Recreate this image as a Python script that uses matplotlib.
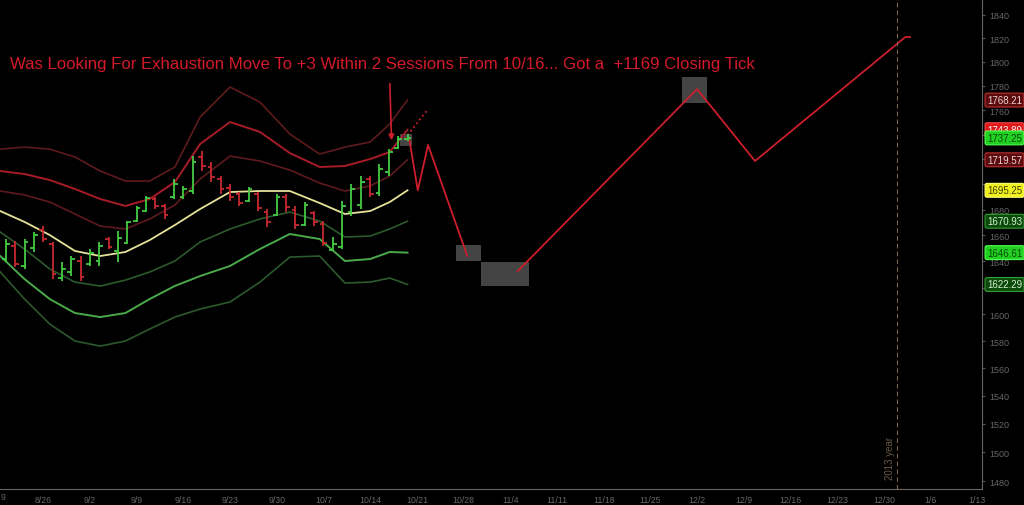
import numpy as np
import matplotlib.pyplot as plt
import matplotlib.transforms as mtransforms
from matplotlib.patches import Rectangle
from matplotlib.ticker import NullLocator, NullFormatter

plt.rcParams['font.family'] = ['Liberation Sans', 'DejaVu Sans']

# x = trading day index, 0 = Mon 8/19/2013
bar_day = np.arange(1, 45)
bar_open = [1642, 1652, 1636, 1650, 1664, 1653, 1627, 1632, 1640, 1638, 1640, 1657, 1648, 1654,
            1671, 1679, 1688, 1683, 1690, 1690, 1695, 1722, 1714, 1704, 1697, 1692, 1687, 1692,
            1678, 1676, 1690, 1680, 1668, 1677, 1669, 1649, 1651, 1678, 1684, 1704, 1693, 1710,
            1729, 1736]
bar_high = [1657.1, 1655.6, 1657.1, 1662.5, 1667.2, 1654.8, 1639.4, 1644.0, 1644.0, 1649.4,
            1654.8, 1658.7, 1663.3, 1671.1, 1682.9, 1690.7, 1689.9, 1684.4, 1704.2, 1698.7,
            1722.6, 1726.6, 1717.8, 1706.6, 1700.2, 1693.9, 1697.8, 1693.9, 1680.5, 1692.3,
            1692.3, 1682.9, 1686.0, 1678.9, 1671.1, 1658.7, 1686.8, 1700.2, 1706.6, 1706.6,
            1716.2, 1728.2, 1738.8, 1740.4]
bar_low = [1639.4, 1635.6, 1634.1, 1647.1, 1654.8, 1626.4, 1624.9, 1628.7, 1624.9, 1636.3,
           1636.3, 1649.4, 1639.4, 1653.3, 1670.4, 1678.1, 1680.5, 1672.7, 1688.4, 1688.4,
           1692.3, 1710.6, 1701.8, 1692.3, 1686.8, 1682.9, 1686.0, 1678.9, 1666.4, 1675.0,
           1678.1, 1664.9, 1667.2, 1667.2, 1651.7, 1647.8, 1649.4, 1675.0, 1680.5, 1689.9,
           1690.7, 1706.6, 1728.2, 1735.0]
bar_close = [1653, 1638, 1655, 1660, 1657, 1630, 1634, 1642, 1628, 1646, 1652, 1651, 1658, 1670,
             1681, 1689, 1683, 1676, 1700, 1696, 1718, 1715, 1706, 1696, 1690, 1685, 1696, 1681,
             1670, 1690, 1682, 1668, 1684, 1670, 1654, 1653, 1683, 1696, 1702, 1692, 1712, 1726,
             1736, 1737.25]

# bollinger style bands (sma +/- 1,2,3 dev)
band_day = [0.4, 3, 5.7, 8.4, 11.1, 13.8, 16.4, 19.1, 21.8, 25, 28.2, 31.4, 34.6, 37.3, 40, 42.1, 44]
upper3 = [1728.2, 1729.8, 1728.2, 1721.8, 1710.6, 1702.6, 1702.6, 1713.8, 1754.3, 1779.0, 1766.6,
          1740.4, 1724.2, 1729.8, 1733.9, 1748.6, 1768.21]
upper2 = [1710.6, 1708.2, 1703.4, 1696.3, 1688.4, 1682.9, 1688.4, 1701.8, 1732.3, 1750.2, 1742.1,
          1725.0, 1713.8, 1714.6, 1720.2, 1725.8, 1743.89]
upper1 = [1694.7, 1691.6, 1686.0, 1676.6, 1667.2, 1664.9, 1672.7, 1683.7, 1704.2, 1722.6, 1718.6,
          1711.4, 1701.0, 1694.7, 1698.7, 1706.6, 1719.57]
middle = [1678.9, 1670.4, 1660.2, 1647.9, 1644.0, 1647.1, 1656.3, 1668.0, 1680.5, 1693.9, 1694.7,
          1694.7, 1685.2, 1676.6, 1678.9, 1686.0, 1695.25]
lower1 = [1662.5, 1649.4, 1634.1, 1624.1, 1621.1, 1625.6, 1631.8, 1640.2, 1654.8, 1664.9, 1672.7,
          1678.1, 1671.1, 1658.7, 1659.4, 1664.9, 1670.93]
lower2 = [1644.0, 1626.4, 1611.3, 1600.8, 1597.8, 1600.8, 1611.3, 1621.2, 1628.7, 1636.4, 1649.4,
          1661.0, 1657.1, 1640.2, 1641.7, 1647.1, 1646.61]
lower3 = [1631.8, 1611.3, 1592.6, 1580.0, 1576.3, 1580.0, 1588.9, 1597.8, 1603.8, 1609.1, 1624.1,
          1643.2, 1644.0, 1623.4, 1624.1, 1627.2, 1622.29]

# projected path
proj1_day = [44.2, 45.1, 46.2, 50.4]
proj1_px = [1736, 1695.2, 1731.5, 1644.0]
proj2_day = [55.8, 75.0, 81.2, 97.3, 97.8]
proj2_px = [1632.5, 1777.3, 1718.6, 1821.1, 1821.1]

# gray target zones: (day0, day1, low, high)
zones = [(43.2, 44.5, 1730.7, 1740.4), (49.2, 51.9, 1640.2, 1652.5),
         (51.9, 57.0, 1621.1, 1639.4), (73.4, 76.1, 1765.8, 1787.4)]

end_labels = ['1768.21', '1743.89', '1737.25', '1719.57', '1695.25', '1670.93', '1646.61', '1622.29']
end_values = [1768.21, 1743.89, 1737.25, 1719.57, 1695.25, 1670.93, 1646.61, 1622.29]

week_labels = ['8/26', '9/2', '9/9', '9/16', '9/23', '9/30', '10/7', '10/14', '10/21', '10/28',
               '11/4', '11/11', '11/18', '11/25', '12/2', '12/9', '12/16', '12/23', '12/30',
               '1/6', '1/13']
week_day = np.arange(5, 106, 5)
year_end_day = 96.4

title = "Was Looking For Exhaustion Move To +3 Within 2 Sessions From 10/16... Got a  +1169 Closing Tick"

fig = plt.figure(figsize=(10.24, 5.06), dpi=100, facecolor='black')
ax = fig.add_axes([0, 16/506, 982/1024, 490/506])
ax.set_facecolor('black')
ax.set_yscale('log')
ax.set_xlim(0.375, 105.5)
ax.set_ylim(1474.5, 1853.7)

# bands
ax.plot(band_day, upper3, color='#5e1a1c', lw=1.2)
ax.plot(band_day, upper2, color='#a81c28', lw=1.4)
ax.plot(band_day, upper1, color='#5e1a1c', lw=1.2)
ax.plot(band_day, middle, color='#e6e29a', lw=1.3)
ax.plot(band_day, lower1, color='#2c5a2c', lw=1.2)
ax.plot(band_day, lower2, color='#4aaa4a', lw=1.4)
ax.plot(band_day, lower3, color='#2c5a2c', lw=1.2)

for d0, d1, lo, hi in zones:
    ax.add_patch(Rectangle((d0, lo), d1 - d0, hi - lo, facecolor='#444444', edgecolor='none', zorder=1))

# ohlc bars
for d, o, h, l, c in zip(bar_day, bar_open, bar_high, bar_low, bar_close):
    col = '#44cc44' if c >= o else '#c82830'
    ax.vlines(d, l, h, color=col, lw=1.3, zorder=3)
    ax.hlines(o, d - 0.4, d, color=col, lw=1.3, zorder=3)
    ax.hlines(c, d, d + 0.4, color=col, lw=1.3, zorder=3)

red = '#cc1e2c'
ax.plot(proj1_day, proj1_px, color=red, lw=1.3)
ax.plot(proj2_day, proj2_px, color=red, lw=1.3)
ax.plot([43.7, 46.2], [1736.3, 1760.9], color=red, lw=1.3, ls=':')
ax.annotate('', xy=(42.3, 1733), xytext=(42.1, 1784),
            arrowprops=dict(arrowstyle='-|>', color=red, lw=1.2, mutation_scale=8))

ax.axvline(year_end_day, color='#7a6a50', lw=0.8, ls=(0, (4, 3)))
ax.text(year_end_day - 0.7, 0.065, '2013 year', rotation=90, color='#6a5a48', fontsize=7,
        ha='center', va='center', transform=mtransforms.blended_transform_factory(ax.transData, ax.transAxes))

# axes
for s in ['left', 'top']:
    ax.spines[s].set_visible(False)
for s in ['right', 'bottom']:
    ax.spines[s].set_color('#6e665e')
ax.yaxis.tick_right()
ax.set_yticks(np.arange(1480, 1841, 20))
ax.set_yticklabels([str(v) for v in range(1480, 1841, 20)])
ax.yaxis.set_minor_locator(NullLocator())
ax.yaxis.set_minor_formatter(NullFormatter())
ax.tick_params(axis='y', length=2, color='#555555', labelcolor='#666666', labelsize=6.5, pad=3)
ax.set_xticks(week_day)
ax.set_xticklabels(week_labels)
ax.tick_params(axis='x', length=0, labelcolor='#666666', labelsize=6.3, pad=4)
fig.text(3/1024, 1 - 498/506, '9', color='#666666', fontsize=6.3, ha='center', va='center')

# last value boxes
box_style = {
    '1768.21': ('#5a0c0e', '#c03030', '#f0d0d0'),
    '1743.89': ('#e01818', '#ff4848', '#ffffff'),
    '1737.25': ('#22d022', '#50ff50', '#0a4a0a'),
    '1719.57': ('#5a0c0e', '#c03030', '#f0d0d0'),
    '1695.25': ('#f0f020', '#ffff70', '#404000'),
    '1670.93': ('#0c4a0c', '#30a030', '#d0f0d0'),
    '1646.61': ('#22d022', '#50ff50', '#0a4a0a'),
    '1622.29': ('#0c4a0c', '#30a030', '#d0f0d0'),
}
trans = mtransforms.blended_transform_factory(fig.transFigure, ax.transData)
for lab, val in zip(end_labels, end_values):
    fc, ec, tc = box_style[lab]
    ax.text(987/1024, val, lab, transform=trans, color=tc, fontsize=7, ha='left', va='center',
            clip_on=False, zorder=5, bbox=dict(boxstyle='round,pad=0.2', fc=fc, ec=ec, lw=0.8))

fig.text(10/1024, 1 - 65/506, title, color='#d41a2a', fontsize=12.1, ha='left', va='center')

fig.savefig('out.png', dpi=100, facecolor='black')
